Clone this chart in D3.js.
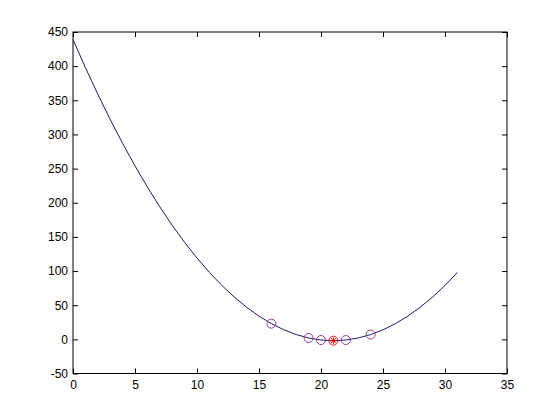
<!DOCTYPE html>
<html><head><meta charset="utf-8">
<script src="https://cdn.jsdelivr.net/npm/d3@7"></script>
<style>body{margin:0;background:#fff}svg{display:block}text{font-family:"Liberation Sans",Arial,sans-serif;font-size:12px;fill:#000}</style>
</head><body><svg id="c" width="560" height="420"></svg>
<script>
const curveX = [0,1,2,3,4,5,6,7,8,9,10,11,12,13,14,15,16,17,18,19,20,21,22,23,24,25,26,27,28,29,30,31];
const curveY = [439,398,359,322,287,254,223,194,167,142,119,98,79,62,47,34,23,14,7,2,-1,-2,-1,2,7,14,23,34,47,62,79,98];
const sampleX = [16,19,20,22,24];
const sampleY = [23,2,-1,-1,7];
const bestX = [21];
const bestY = [-2];
const xTicks = [0,5,10,15,20,25,30,35];
const yTicks = [-50,0,50,100,150,200,250,300,350,400,450];

const svg = d3.select("#c");
const L=73,R=507,T=32,B=373.5;
const x = d3.scaleLinear().domain([0,35]).range([L,R]);
const y = d3.scaleLinear().domain([-50,450]).range([B,T]);
const g = svg.append("g");
const fmt = d => String(d);

const ax = (gen, tr) => {
  const a = g.append("g").attr("transform", tr).call(gen);
  a.select(".domain").remove();
  a.selectAll("line").attr("stroke","#000");
  return a;
};
const xb = ax(d3.axisBottom(x).tickValues(xTicks).tickSizeInner(-5).tickSizeOuter(0).tickPadding(7).tickFormat(fmt), `translate(0,${B})`);
ax(d3.axisTop(x).tickValues(xTicks).tickSizeInner(-5).tickSizeOuter(0).tickFormat(""), `translate(0,${T})`);
const yl = ax(d3.axisLeft(y).tickValues(yTicks).tickSizeInner(-5).tickSizeOuter(0).tickPadding(5).tickFormat(fmt), `translate(${L},0)`);
ax(d3.axisRight(y).tickValues(yTicks).tickSizeInner(-5).tickSizeOuter(0).tickFormat(""), `translate(${R},0)`);
[xb,yl].forEach(a=>a.selectAll("text").style("font-size","12px").style("font-family","'Liberation Sans',Arial,sans-serif").attr("fill","#000"));
g.append("rect").attr("x",L).attr("y",T).attr("width",R-L).attr("height",B-T)
 .attr("fill","none").attr("stroke","#000").attr("stroke-width",1);

const line = d3.line().x((d,i)=>x(curveX[i])).y(d=>y(d));
g.append("path").datum(curveY).attr("d",line).attr("fill","none").attr("stroke","#1a1a6e").attr("stroke-width",1);

g.selectAll("circle.s").data(sampleY).join("circle").attr("class","s")
 .attr("cx",(d,i)=>x(sampleX[i])).attr("cy",d=>y(d)).attr("r",4.5)
 .attr("fill","none").attr("stroke","#9a3a8c").attr("stroke-width",1);

bestY.forEach((v,i)=>{
  const cx=x(bestX[i]), cy=y(v);
  g.append("circle").attr("cx",cx).attr("cy",cy).attr("r",4.5).attr("fill","none").attr("stroke","#e0203a").attr("stroke-width",1);
  const s=3.5;
  const star = d3.path();
  star.moveTo(cx-s,cy); star.lineTo(cx+s,cy);
  star.moveTo(cx,cy-s); star.lineTo(cx,cy+s);
  star.moveTo(cx-s*0.7,cy-s*0.7); star.lineTo(cx+s*0.7,cy+s*0.7);
  star.moveTo(cx-s*0.7,cy+s*0.7); star.lineTo(cx+s*0.7,cy-s*0.7);
  g.append("path").attr("d",star.toString()).attr("stroke","#ff0000").attr("stroke-width",1).attr("fill","none");
});
</script></body></html>
